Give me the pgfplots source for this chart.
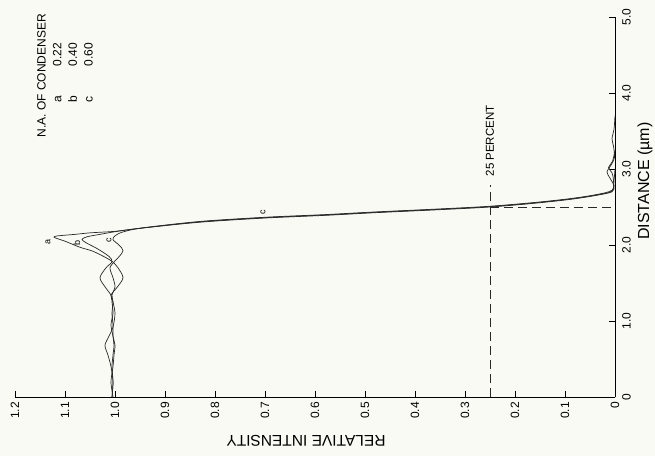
\documentclass[border=0pt]{standalone}
\usepackage{fontspec}
\setmainfont{Liberation Sans}
\usepackage{pgfplots}
\pgfplotsset{compat=1.18}
\definecolor{bg}{RGB}{250,250,244}
\definecolor{ink}{RGB}{40,40,40}
\begin{document}
\begin{tikzpicture}
\path[use as bounding box, fill=bg] (0,0) rectangle (655pt,456pt);
\begin{axis}[
 at={(15pt,59pt)}, anchor=south west,
 scale only axis, width=600pt, height=380pt,
 xmin=0, xmax=1.2, ymin=0, ymax=5, x dir=reverse,
 axis x line*=bottom, axis y line*=right,
 axis line style={line width=1pt, black},
 tick align=inside, major tick length=6pt,
 tick style={line width=0.8pt, black},
 xtick={0,0.1,0.2,0.3,0.4,0.5,0.6,0.7,0.8,0.9,1.0,1.1,1.2},
 xticklabels={0,0.1,0.2,0.3,0.4,0.5,0.6,0.7,0.8,0.9,1.0,1.1,1.2},
 ytick={0,1,2,3,4,5}, yticklabels={0,1.0,2.0,3.0,4.0,5.0},
 xticklabel style={rotate=90, anchor=east, inner sep=0pt, font=\fontsize{12}{14}\selectfont},
 xticklabel shift=5pt,
 yticklabel style={rotate=90, anchor=north, inner sep=0pt, font=\fontsize{12}{14}\selectfont},
 yticklabel shift=7pt,
 clip=false,
]
% curve a (N.A. 0.22)
\addplot[ink, line width=0.7pt, smooth, tension=0.5] coordinates {
(1.006,0.00)(1.004,0.20)(1.008,0.40)(1.014,0.55)(1.020,0.68)(1.012,0.80)(1.004,0.92)(1.000,1.10)(1.004,1.25)(1.008,1.34)(0.995,1.45)(0.984,1.57)(0.994,1.70)(1.005,1.78)(1.020,1.84)(1.045,1.92)(1.070,1.97)(1.100,2.05)(1.118,2.09)(1.122,2.105)(1.115,2.12)(1.08,2.14)(1.05,2.16)(1.00,2.18)(0.95,2.22)(0.83,2.30)(0.70,2.355)(0.58,2.39)(0.48,2.425)(0.35,2.465)(0.25,2.50)(0.16,2.55)(0.09,2.60)(0.04,2.65)(0.006,2.70)(0.002,2.78)(0.010,2.88)(0.016,2.96)(0.008,3.05)(0.001,3.15)(0.003,3.30)(0.006,3.40)(0.002,3.52)(0,3.7)};
% curve b (N.A. 0.40)
\addplot[ink, line width=0.7pt, smooth, tension=0.5] coordinates {
(1.004,0)(1.008,0.2)(1.004,0.4)(1.002,0.55)(1.000,0.68)(1.004,0.8)(1.008,0.95)(1.004,1.1)(1.006,1.25)(1.008,1.34)(1.020,1.45)(1.030,1.57)(1.018,1.70)(1.006,1.78)(1.012,1.85)(1.035,1.95)(1.058,2.03)(1.066,2.075)(1.055,2.11)(1.03,2.14)(1.00,2.175)(0.95,2.22)(0.83,2.305)(0.70,2.36)(0.58,2.395)(0.48,2.43)(0.35,2.47)(0.25,2.505)(0.16,2.555)(0.09,2.605)(0.04,2.655)(0.006,2.71)(0.003,2.85)(0.006,2.95)(0.013,3.02)(0.005,3.1)(0,3.25)};
% curve c (N.A. 0.60)
\addplot[ink, line width=0.7pt, smooth, tension=0.5] coordinates {
(1.006,0)(1.004,0.2)(1.006,0.4)(1.004,0.55)(1.002,0.68)(1.004,0.8)(1.004,0.95)(1.006,1.1)(1.004,1.25)(1.006,1.34)(1.000,1.45)(1.004,1.57)(1.010,1.70)(1.000,1.79)(0.990,1.86)(0.984,1.93)(0.992,2.00)(1.004,2.07)(1.000,2.12)(0.985,2.17)(0.945,2.225)(0.83,2.31)(0.70,2.365)(0.58,2.40)(0.48,2.435)(0.35,2.475)(0.25,2.51)(0.16,2.56)(0.09,2.61)(0.04,2.66)(0.006,2.72)(0.002,2.85)(0,3.0)};
% 25 percent guides
\addplot[ink, line width=0.8pt, dash pattern=on 9pt off 5pt] coordinates {(0.25,0)(0.25,2.79)};
\addplot[ink, line width=0.8pt, dash pattern=on 9pt off 5pt] coordinates {(0.25,2.5)(0,2.5)};
\node[rotate=90, font=\fontsize{11.5}{13}\selectfont] at (axis cs:0.25,3.37) {25 PERCENT};
\node[rotate=90, font=\fontsize{9}{10}\selectfont] at (axis cs:1.134,2.04) {a};
\node[rotate=90, font=\fontsize{9}{10}\selectfont] at (axis cs:1.076,2.03) {b};
\node[rotate=90, font=\fontsize{9}{10}\selectfont] at (axis cs:1.012,2.06) {c};
\node[rotate=90, font=\fontsize{9}{10}\selectfont] at (axis cs:0.704,2.43) {c};
\node[rotate=180, font=\fontsize{15.5}{18}\selectfont] at ([yshift=-44pt]axis cs:0.618,0) {RELATIVE INTENSITY};
\node[rotate=90, font=\fontsize{16}{18}\selectfont] at ([xshift=30pt]axis cs:0,2.84) {DISTANCE (µm)};
\node[rotate=90, anchor=north west, align=left, inner sep=0pt, font=\fontsize{12}{15.7}\selectfont] at (axis cs:1.156,3.41)
 {N.A. OF CONDENSER\\\hspace*{35pt}\makebox[36pt][l]{a}0.22\\\hspace*{35pt}\makebox[36pt][l]{b}0.40\\\hspace*{35pt}\makebox[36pt][l]{c}0.60};
\end{axis}
\end{tikzpicture}
\end{document}
